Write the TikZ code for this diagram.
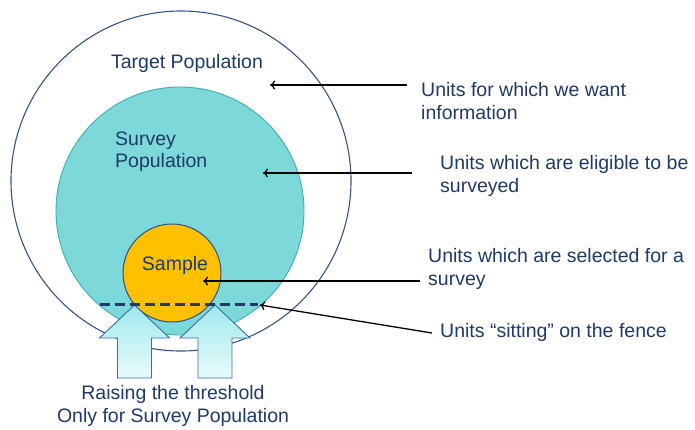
\documentclass[tikz,border=0pt]{standalone}
\usepackage{fontspec}
\setmainfont{Liberation Sans}
\usetikzlibrary{calc,arrows.meta}

\definecolor{navy}{HTML}{1F3A68}
\definecolor{ring}{HTML}{34558A}
\definecolor{tealfill}{HTML}{7DD8DA}
\definecolor{tealline}{HTML}{3BAFB2}
\definecolor{gold}{HTML}{FFC000}
\definecolor{goldline}{HTML}{2B4F8A}
\definecolor{arrowtop}{HTML}{9FE8EC}
\definecolor{arrowbot}{HTML}{EAFBFB}
\definecolor{arrowline}{HTML}{3C6E9E}

\tikzset{
  label/.style={font=\fontsize{19.5}{22.5}\selectfont, text=navy, inner sep=0pt},
  note/.style={label, align=left, anchor=west},
  pointer/.style={-{To[length=5pt,width=9pt]}, black, line width=1.3pt},
  uparrow/.style={draw=arrowline, line width=0.9pt, top color=arrowtop, bottom color=arrowbot}
}

\begin{document}
\begin{tikzpicture}[x=1pt, y=-1pt]
  \useasboundingbox (0,0) rectangle (695,429);

  % circles
  \coordinate (T) at (181,181);
  \coordinate (S) at (180,211);
  \coordinate (P) at (172,273);
  \draw[ring, fill=white, line width=1.1pt] (T) circle (170);
  \draw[tealline, fill=tealfill, line width=0.9pt] (S) circle (124);
  \draw[goldline, fill=gold, line width=1pt] (P) circle (49);

  % block arrows under the fence
  \foreach \cx in {134.5, 215} {
    \draw[uparrow] (\cx,305) -- (\cx+35,338) -- (\cx+17,338) -- (\cx+17,378)
      -- (\cx-17,378) -- (\cx-17,338) -- (\cx-35,338) -- cycle;
  }

  % the fence
  \coordinate (fenceL) at (100,304);
  \coordinate (fenceR) at (258,304);
  \draw[navy, line width=3pt, dash pattern=on 10pt off 5pt] (fenceL) -- (fenceR);

  % labels inside
  \node[label] (target) at (187,63) {Target Population};
  \node[label, align=left, anchor=west] (survey) at (115,151.5) {Survey\\Population};
  \node[label] (sample) at (175,265) {Sample};
  \node[label, align=center] (raise) at (173,406) {Raising the threshold\\Only for Survey Population};

  % notes on the right
  \node[note] (nTarget) at (421,101) {Units for which we want\\information};
  \node[note] (nSurvey) at (440,176) {Units which are eligible to be\\surveyed};
  \node[note] (nSample) at (428,269) {Units which are selected for a\\survey};
  \node[note] (nFence)  at (440,332) {Units “sitting” on the fence};

  \coordinate (aTarget) at (270,85);
  \coordinate (aSurvey) at (263,173);
  \coordinate (aSample) at (203,281);
  \coordinate (aFence)  at (260,305);

  \draw[pointer] ($(nTarget.west |- aTarget)+(-14,0)$) -- (aTarget);
  \draw[pointer] ($(nSurvey.west |- aSurvey)+(-28,0)$) -- (aSurvey);
  \draw[pointer] ($(nSample.west |- aSample)+(-8,0)$) -- (aSample);
  \draw[pointer] ($(nFence.west)+(-8,1)$) -- (aFence);
\end{tikzpicture}
\end{document}
